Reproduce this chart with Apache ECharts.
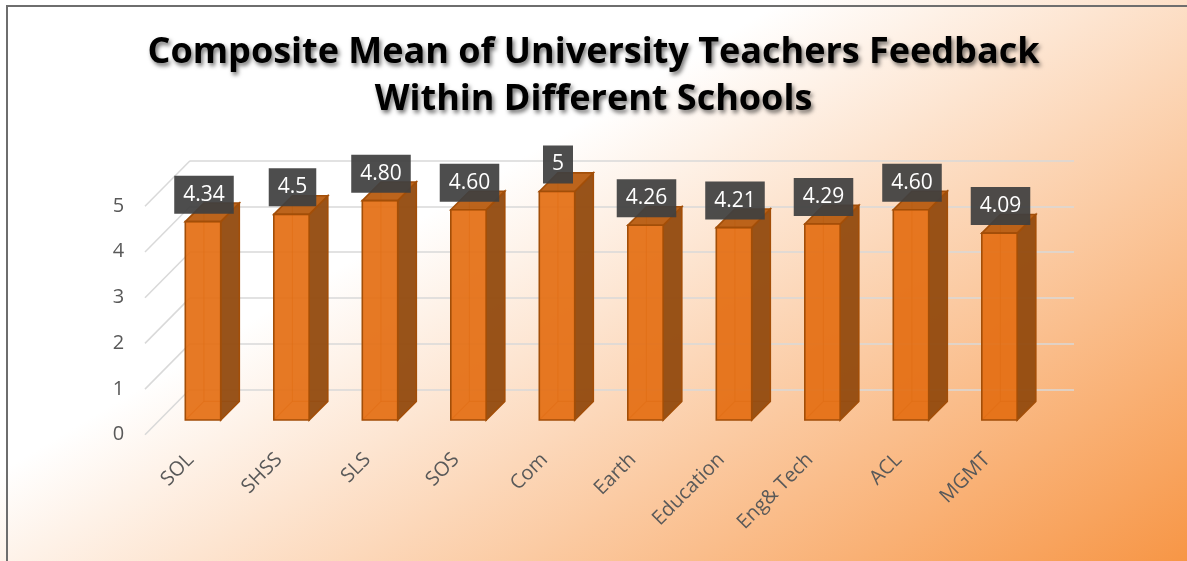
<!DOCTYPE html>
<html>
<head>
<meta charset="utf-8">
<script src="https://cdn.jsdelivr.net/npm/echarts@6/dist/echarts.min.js"></script>
<style>
html,body{margin:0;padding:0;background:#fff;}
#chart{width:1187px;height:561px;}
</style>
</head>
<body>
<div id="chart"></div>
<script>
// ---- data ----
const categories = ['SOL', 'SHSS', 'SLS', 'SOS', 'Com', 'Earth', 'Education', 'Eng& Tech', 'ACL', 'MGMT'];
const values = [4.34, 4.5, 4.80, 4.60, 5, 4.26, 4.21, 4.29, 4.60, 4.09];
const valueLabels = ['4.34', '4.5', '4.80', '4.60', '5', '4.26', '4.21', '4.29', '4.60', '4.09'];
const yTicks = [0, 1, 2, 3, 4, 5];
const titleText = 'Composite Mean of University Teachers Feedback\nWithin Different Schools';

// ---- styling constants ----
const BAR_DX = 18.6, BAR_DY = -18.6;      // depth of each bar
const WALL_DX = 45, WALL_DY = -45.5;      // depth of side wall
const BAR_RATIO = 0.40;

const chart = echarts.init(document.getElementById('chart'), null, {renderer: 'canvas'});

function renderBar(params, api) {
  const i = api.value(0), v = api.value(1);
  const base = api.coord([i, 0]);
  const top = api.coord([i, v]);
  const bw = api.size([1, 0])[0] * BAR_RATIO;
  const x0 = base[0] - bw / 2, x1 = base[0] + bw / 2;
  const y0 = top[1], y1 = base[1];
  const edge = '#A24E08';
  const lw = 1.6;
  return {
    type: 'group',
    children: [
      {type: 'line', shape: {x1: x0 + BAR_DX, y1: y1 + BAR_DY, x2: x0 + BAR_DX, y2: y0 + BAR_DY}, style: {stroke: edge, lineWidth: 1.2, opacity: 0.5}},
      {type: 'line', shape: {x1: x0 + BAR_DX, y1: y1 + BAR_DY, x2: x1 + BAR_DX, y2: y1 + BAR_DY}, style: {stroke: edge, lineWidth: 1.2, opacity: 0.5}},
      {type: 'line', shape: {x1: x0, y1: y1, x2: x0 + BAR_DX, y2: y1 + BAR_DY}, style: {stroke: edge, lineWidth: 1.2, opacity: 0.5}},
      {type: 'polygon', shape: {points: [[x1, y0], [x1 + BAR_DX, y0 + BAR_DY], [x1 + BAR_DX, y1 + BAR_DY], [x1, y1]]},
        style: {fill: 'rgba(146,74,14,0.95)', stroke: edge, lineWidth: lw}},
      {type: 'polygon', shape: {points: [[x0, y0], [x0 + BAR_DX, y0 + BAR_DY], [x1 + BAR_DX, y0 + BAR_DY], [x1, y0]]},
        style: {fill: 'rgba(184,92,16,0.95)', stroke: edge, lineWidth: lw}},
      {type: 'rect', shape: {x: x0, y: y0, width: bw, height: y1 - y0},
        style: {fill: 'rgba(228,110,18,0.92)', stroke: edge, lineWidth: lw}},
      {type: 'text', z2: 10, style: {
        text: valueLabels[params.dataIndex], x: base[0] + 1, y: y0 - 8,
        align: 'center', verticalAlign: 'bottom',
        fill: '#FFFFFF', fontSize: 21, fontFamily: 'Open Sans', lineHeight: 26,
        backgroundColor: 'rgba(64,64,64,0.93)', padding: [6, 9, 6, 9]
      }}
    ]
  };
}

function renderWallLine(params, api) {
  const p = api.coord([0, api.value(1)]);
  return {
    type: 'line',
    shape: {x1: p[0] - WALL_DX, y1: p[1] - WALL_DY, x2: p[0], y2: p[1]},
    style: {stroke: '#D9D9D9', lineWidth: 1.5}
  };
}

const hiddenAxis = {
  axisLine: {show: false}, axisTick: {show: false}, axisLabel: {show: false}, splitLine: {show: false}
};

const option = {
  animation: false,
  backgroundColor: {
    type: 'linear', x: 0, y: 0, x2: 563, y2: 936, global: true,
    colorStops: [
      {offset: 0, color: '#FFFFFF'},
      {offset: 0.37, color: '#FFFFFF'},
      {offset: 1, color: '#F79646'}
    ]
  },
  title: {
    text: titleText,
    left: 'center',
    top: 24,
    textStyle: {
      fontFamily: 'Open Sans', fontWeight: 'bold', fontSize: 36, lineHeight: 47, color: '#000',
      textShadowColor: 'rgba(0,0,0,0.55)', textShadowBlur: 4, textShadowOffsetX: 2, textShadowOffsetY: 3
    }
  },
  graphic: [
    {type: 'rect', shape: {x: 7, y: 6, width: 1200, height: 600}, style: {fill: 'none', stroke: '#6E6E6E', lineWidth: 2}, silent: true}
  ],
  grid: [
    {left: 158.75, right: 143.25, top: 145.8, bottom: 141, outerBoundsMode: 'none'},
    {left: 190, right: 113, top: 160.8, bottom: 171.7, outerBoundsMode: 'none'},
    {left: 146.25, right: 155.75, top: 206, bottom: 126.5, outerBoundsMode: 'none'}
  ],
  xAxis: [
    Object.assign({type: 'category', data: categories, gridIndex: 0}, hiddenAxis),
    Object.assign({type: 'value', min: 0, max: 1, gridIndex: 1}, hiddenAxis),
    {
      type: 'category', data: categories, gridIndex: 2,
      axisLine: {show: false}, axisTick: {show: false}, splitLine: {show: false},
      axisLabel: {show: true, rotate: 45, margin: 22, interval: 0, color: '#595959', fontSize: 20, fontFamily: 'Open Sans'}
    }
  ],
  yAxis: [
    Object.assign({type: 'value', min: 0, max: 6, gridIndex: 0}, hiddenAxis),
    {
      type: 'value', min: 0, max: 5, interval: 1, gridIndex: 1,
      axisLine: {show: false}, axisTick: {show: false}, axisLabel: {show: false},
      splitLine: {show: true, lineStyle: {color: '#D9D9D9', width: 1.5}}
    },
    {
      type: 'value', min: 0, max: 5, interval: 1, gridIndex: 2,
      axisLine: {show: false}, axisTick: {show: false}, splitLine: {show: false},
      axisLabel: {show: true, margin: 22, color: '#595959', fontSize: 20, fontFamily: 'Open Sans'}
    }
  ],
  series: [
    {
      type: 'custom', xAxisIndex: 1, yAxisIndex: 1, silent: true,
      renderItem: renderWallLine,
      data: yTicks.map(t => [0, t])
    },
    {
      type: 'custom', xAxisIndex: 0, yAxisIndex: 0, silent: true,
      renderItem: renderBar,
      data: values.map((v, i) => [i, v]),
      z: 5
    }
  ]
};
chart.setOption(option);
</script>
</body>
</html>
